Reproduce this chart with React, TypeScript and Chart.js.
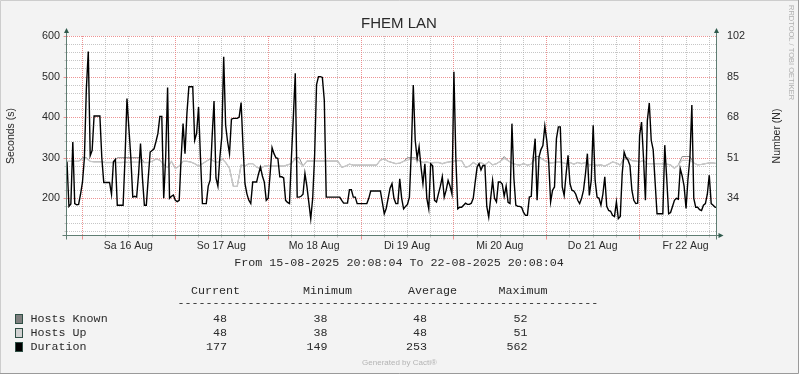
import React, { useEffect, useRef } from "react";
import { Chart, registerables } from "chart.js";

Chart.register(...registerables);

// ---------- data ----------
const TITLE = "FHEM LAN";
const LEFT_AXIS_TITLE = "Seconds (s)";
const RIGHT_AXIS_TITLE = "Number (N)";
const WATERMARK = "RRDTOOL / TOBI OETIKER";
const PERIOD_TEXT = "From 15-08-2025 20:08:04 To 22-08-2025 20:08:04";
const FOOTER = "Generated by Cacti®";

const TOTAL_HOURS = 168; // 7 days
const FIRST_MIDNIGHT_HOURS = 3.8656; // 20:08:04 -> 00:00 next day
const DAY_LABELS = ["Sa 16 Aug", "So 17 Aug", "Mo 18 Aug", "Di 19 Aug", "Mi 20 Aug", "Do 21 Aug", "Fr 22 Aug"];

const LEFT_MIN = 107.1;
const LEFT_MAX = 600;
const RIGHT_FACTOR = 0.17; // Number = Seconds * 0.17
const LEFT_TICK_LABELS = [200, 300, 400, 500, 600];
const RIGHT_TICK_LABELS = [34, 51, 68, 85, 102];

// Duration (s), one value every 30 minutes
const DURATION_STEP_HOURS = 0.5;
const durationValues = [
  290, 180, 186, 339, 187, 184, 185, 210, 240, 300,
  470, 562, 305, 318, 403, 403, 403, 403, 300, 239,
  239, 239, 239, 210, 290, 296, 183, 183, 183, 183,
  300, 446, 372, 300, 203, 205, 203, 260, 335, 250,
  183, 183, 250, 314, 318, 322, 340, 360, 402, 402,
  200, 300, 473, 200, 205, 208, 195, 192, 195, 300,
  384, 310, 410, 475, 475, 475, 343, 360, 425, 300,
  187, 187, 187, 230, 245, 350, 440, 250, 230, 300,
  350, 549, 380, 340, 310, 395, 397, 397, 397, 400,
  436, 327, 236, 211, 195, 187, 240, 240, 240, 260,
  277, 255, 240, 195, 200, 260, 325, 310, 300, 298,
  253, 253, 250, 195, 190, 187, 300, 400, 508, 203,
  203, 205, 210, 261, 230, 190, 150, 200, 306, 480,
  500, 500, 498, 442, 203, 203, 203, 203, 203, 203,
  203, 203, 195, 188, 188, 188, 221, 221, 203, 203,
  187, 187, 187, 187, 187, 187, 200, 218, 218, 218,
  218, 218, 218, 190, 162, 175, 200, 225, 236, 200,
  187, 187, 248, 200, 174, 180, 185, 203, 318, 479,
  343, 298, 327, 277, 236, 285, 200, 174, 285, 280,
  195, 191, 211, 230, 253, 203, 220, 244, 230, 210,
  512, 300, 174, 178, 178, 183, 188, 185, 185, 188,
  200, 240, 277, 285, 270, 281, 281, 180, 154, 200,
  244, 200, 191, 240, 240, 235, 205, 230, 190, 187,
  384, 250, 183, 180, 180, 178, 165, 158, 158, 203,
  205, 300, 347, 195, 302, 320, 330, 378, 343, 290,
  191, 220, 228, 347, 376, 376, 228, 207, 260, 306,
  236, 220, 218, 210, 195, 187, 200, 220, 260, 310,
  207, 244, 380, 244, 203, 200, 183, 210, 253, 180,
  170, 168, 158, 155, 191, 150, 155, 261, 314, 300,
  294, 281, 220, 195, 187, 188, 355, 388, 300, 195,
  392, 435, 343, 320, 240, 162, 162, 162, 162, 331,
  250, 162, 165, 180, 195, 200, 198, 273, 255, 230,
  175, 248, 300, 430, 200, 178, 178, 172, 170, 183,
  187, 210, 257, 187, 183, 178, 177,
];

// Hosts (N), one value every hour
const HOSTS_STEP_HOURS = 1;
const hostsUpValues = [
  49.5, 49.5, 49.5, 49.5, 50.5, 50.7, 49.5, 49.3, 49.3, 49.3,
  49, 49, 49, 49, 49, 49.2, 49, 49.3, 49.2, 49.3,
  49, 49, 49.5, 50.5, 50, 48, 47, 49.5, 46.5, 47.5,
  49.5, 49.5, 49.2, 48.5, 47.5, 48.5, 49.5, 50.5, 49.5, 49,
  50.7, 49, 46.5, 39, 39, 47.9, 47.5, 48.5, 48.5, 47,
  46.5, 47.5, 47.5, 47.5, 47.5, 47.5, 47.5, 48, 48.5, 50.5,
  49, 47.5, 49.6, 49.6, 49.6, 49.6, 49.6, 49.6, 49.6, 49.6,
  49.6, 47, 47.5, 48.3, 47.9, 47.9, 47.9, 47.9, 47.9, 47.9,
  47.9, 50, 50.5, 49.5, 49, 48.5, 48.7, 49.5, 50, 50.5,
  50.3, 49.8, 49, 49.2, 48.8, 49, 49, 48.5, 49, 49.3,
  49.6, 49.8, 49.8, 47, 47.5, 49, 48, 49, 48, 49.3,
  48, 48.5, 49.5, 50.7, 49.8, 48.7, 48.2, 47.9, 48.5, 47.9,
  48.3, 50.3, 50.8, 50.3, 49.2, 48.8, 49, 49.2, 49, 48.5,
  49, 48.3, 49, 48.5, 49, 48, 48.2, 47.8, 48, 47.5,
  48.3, 49.2, 48.8, 47.9, 50.3, 50.3, 49.8, 49.6, 49.3, 49.8,
  48.5, 48.5, 48.5, 48.5, 48.5, 48.3, 48, 46.5, 48, 49.9,
  49.9, 49.9, 48.8, 48, 48.2, 48.5, 48.8, 48.8, 48.5,
];
const hostsKnownValues = [
  49.5, 49.5, 49.5, 49.5, 51, 51, 49.5, 49.3, 49.3, 49.3,
  49, 49, 49, 51, 51, 51, 51, 51, 51, 51,
  49, 49, 49.5, 50.5, 50, 48, 47, 49.5, 46.5, 47.5,
  49.5, 49.5, 49.2, 48.5, 47.5, 48.5, 49.5, 50.5, 49.5, 49,
  50.7, 49, 46.5, 39, 39, 47.9, 47.5, 48.5, 48.5, 47,
  46.5, 47.5, 47.5, 47.5, 47.5, 47.5, 47.5, 48, 48.5, 51,
  51, 47.5, 49.6, 49.6, 49.6, 49.6, 49.6, 49.6, 49.6, 49.6,
  49.6, 47, 47.5, 48.3, 47.9, 47.9, 47.9, 47.9, 47.9, 47.9,
  47.9, 50, 50.5, 49.5, 49, 48.5, 48.7, 49.5, 51, 51,
  51, 49.8, 49, 49.2, 48.8, 49, 49, 48.5, 49, 49.3,
  49.6, 49.8, 49.8, 47, 47.5, 49, 48, 49, 48, 49.3,
  48, 48.5, 49.5, 51.5, 49.8, 48.7, 48.2, 47.9, 48.5, 47.9,
  48.3, 51.5, 51.5, 50.3, 49.2, 48.8, 49, 49.2, 49, 48.5,
  49, 48.3, 49, 48.5, 49, 48, 48.2, 47.8, 48, 47.5,
  48.3, 49.2, 48.8, 47.9, 51, 51, 49.8, 49.6, 49.3, 49.8,
  48.5, 48.5, 48.5, 48.5, 48.5, 48.3, 48, 46.5, 48, 51.5,
  51.5, 51.5, 48.8, 48, 48.2, 48.5, 48.8, 48.8, 48.5,
];

// legend table
const legendNames = ["Hosts Known", "Hosts Up", "Duration"];
const legendColors = ["#7f7f7f", "#d2d2d2", "#000000"];
const legendCurrent = ["48", "48", "177"];
const legendMinimum = ["38", "38", "149"];
const legendAverage = ["48", "48", "253"];
const legendMaximum = ["52", "51", "562"];
const legendHeaders = ["Current", "Minimum", "Average", "Maximum"];

// ---------- styles ----------
const SANS = "'Liberation Sans', Arial, sans-serif";
const MONO = "'Liberation Mono', 'DejaVu Sans Mono', monospace";
const BG = "#f3f3f3";
const AXIS_COLOR = "#5f7d72";
const ARROW_COLOR = "#2f5a4c";
const MAJOR_GRID = "rgba(232, 120, 120, 0.8)";
const MINOR_GRID = "rgba(160, 160, 160, 0.6)";
const TEXT_COLOR = "#2a2a2a";

const isMidnight = (v: number) => {
  const r = (((v - FIRST_MIDNIGHT_HOURS) % 24) + 24) % 24;
  return r < 0.01 || r > 23.99;
};
const dayLabel = (v: number) => {
  const d = v - FIRST_MIDNIGHT_HOURS;
  const r = ((d % 24) + 24) % 24;
  if (Math.abs(r - 12) < 0.01) return DAY_LABELS[Math.round((d - 12) / 24)] ?? "";
  return "";
};

const X_TICKS: number[] = [];
for (let k = 0; FIRST_MIDNIGHT_HOURS + 6 * k <= TOTAL_HOURS; k++) X_TICKS.push(FIRST_MIDNIGHT_HOURS + 6 * k);
const Y_GRID: number[] = [];
for (let k = 0; 120 + 20 * k <= LEFT_MAX; k++) Y_GRID.push(120 + 20 * k);

const chromePlugin = {
  id: "rrdChrome",
  beforeDraw(chart: any) {
    const { ctx, chartArea: ca, width, height } = chart;
    ctx.save();
    ctx.fillStyle = BG;
    ctx.fillRect(0, 0, width, height);
    ctx.fillStyle = "#ffffff";
    ctx.fillRect(ca.left, ca.top, ca.right - ca.left, ca.bottom - ca.top);
    ctx.restore();
  },
  beforeDatasetsDraw(chart: any) {
    const { ctx, chartArea: ca, scales } = chart;
    const xs = scales.x;
    const ys = scales.y;
    const L = Math.round(ca.left) - 0.5;
    const B = Math.round(ca.bottom) - 0.5;
    ctx.save();
    ctx.lineWidth = 1;
    // horizontal grid
    Y_GRID.forEach((v) => {
      const major = LEFT_TICK_LABELS.includes(v);
      const y = Math.round(ys.getPixelForValue(v)) + 0.5;
      ctx.strokeStyle = major ? MAJOR_GRID : MINOR_GRID;
      ctx.setLineDash([1, 1]);
      ctx.beginPath();
      ctx.moveTo(ca.left, y);
      ctx.lineTo(ca.right, y);
      ctx.stroke();
      ctx.setLineDash([]);
      ctx.beginPath();
      ctx.moveTo(L - (major ? 3 : 2), y);
      ctx.lineTo(L, y);
      ctx.stroke();
    });
    // vertical grid
    X_TICKS.forEach((t) => {
      const major = isMidnight(t);
      const x = Math.round(xs.getPixelForValue(t)) + 0.5;
      ctx.strokeStyle = major ? MAJOR_GRID : MINOR_GRID;
      ctx.setLineDash([1, 1]);
      ctx.beginPath();
      ctx.moveTo(x, ca.top);
      ctx.lineTo(x, ca.bottom);
      ctx.stroke();
      ctx.setLineDash([]);
      ctx.beginPath();
      ctx.moveTo(x, B);
      ctx.lineTo(x, B + (major ? 4 : 2));
      ctx.stroke();
    });
    ctx.restore();
  },
  afterDatasetsDraw(chart: any) {
    const { ctx, chartArea: ca } = chart;
    const L = Math.round(ca.left) - 0.5;
    const R = Math.round(ca.right) - 0.5;
    const B = Math.round(ca.bottom) - 0.5;
    const T = ca.top;
    ctx.save();
    ctx.strokeStyle = AXIS_COLOR;
    ctx.lineWidth = 1;
    ctx.beginPath();
    ctx.moveTo(L - 4, B);
    ctx.lineTo(R + 3, B);
    ctx.moveTo(L, T - 4);
    ctx.lineTo(L, B + 4);
    ctx.moveTo(R, T - 4);
    ctx.lineTo(R, B + 4);
    ctx.stroke();
    ctx.fillStyle = ARROW_COLOR;
    const tri = (a: number[], b: number[], c: number[]) => {
      ctx.beginPath();
      ctx.moveTo(a[0], a[1]);
      ctx.lineTo(b[0], b[1]);
      ctx.lineTo(c[0], c[1]);
      ctx.closePath();
      ctx.fill();
    };
    tri([L, T - 8], [L - 2.5, T - 3], [L + 2.5, T - 3]);
    tri([R, T - 8], [R - 2.5, T - 3], [R + 2.5, T - 3]);
    tri([R + 7, B], [R + 2, B - 2.5], [R + 2, B + 2.5]);
    ctx.restore();
  },
  afterDraw(chart: any) {
    const { ctx, chartArea: ca, width, height } = chart;
    ctx.save();
    // frame
    ctx.lineWidth = 1;
    ctx.strokeStyle = "#cdcdcd";
    ctx.beginPath();
    ctx.moveTo(0.5, height);
    ctx.lineTo(0.5, 0.5);
    ctx.lineTo(width, 0.5);
    ctx.stroke();
    ctx.strokeStyle = "#9a9a9a";
    ctx.beginPath();
    ctx.moveTo(width - 0.5, 0);
    ctx.lineTo(width - 0.5, height - 0.5);
    ctx.lineTo(0, height - 0.5);
    ctx.stroke();

    // title
    ctx.fillStyle = TEXT_COLOR;
    ctx.font = `15px ${SANS}`;
    ctx.textAlign = "center";
    ctx.textBaseline = "alphabetic";
    ctx.fillText(TITLE, 399, 27.5);

    // axis titles
    const midY = (ca.top + ca.bottom) / 2;
    ctx.font = `10.5px ${SANS}`;
    ctx.textBaseline = "middle";
    ctx.save();
    ctx.translate(11, midY);
    ctx.rotate(-Math.PI / 2);
    ctx.fillText(LEFT_AXIS_TITLE, 0, 0);
    ctx.restore();
    ctx.save();
    ctx.translate(777.5, midY);
    ctx.rotate(-Math.PI / 2);
    ctx.fillText(RIGHT_AXIS_TITLE, 0, 0);
    ctx.restore();

    // watermark
    ctx.save();
    ctx.fillStyle = "#b0b0b0";
    ctx.font = `7.5px ${SANS}`;
    ctx.translate(791, 5);
    ctx.rotate(Math.PI / 2);
    ctx.textAlign = "left";
    ctx.fillText(WATERMARK, 0, 0);
    ctx.restore();

    // period
    ctx.font = `11.7px ${MONO}`;
    ctx.fillStyle = TEXT_COLOR;
    ctx.textAlign = "center";
    ctx.fillText(PERIOD_TEXT, 399, 263);

    // legend header
    ctx.textAlign = "left";
    const headerX = [191, 303, 408, 498.5];
    legendHeaders.forEach((h, i) => ctx.fillText(h, headerX[i], 290.5));
    ctx.fillText("-".repeat(60), 177.4, 303);

    const rowY = [319, 333, 347];
    const colRight = [227, 327.5, 427, 527.5];
    const cols = [legendCurrent, legendMinimum, legendAverage, legendMaximum];
    legendNames.forEach((name, r) => {
      const y = rowY[r];
      ctx.fillStyle = legendColors[r];
      ctx.fillRect(15, y - 4.5, 8, 9);
      ctx.strokeStyle = "#2f4f45";
      ctx.lineWidth = 1;
      ctx.strokeRect(15.5, y - 4.5, 7, 9);
      ctx.fillStyle = TEXT_COLOR;
      ctx.textAlign = "left";
      ctx.fillText(name, 30.5, y);
      ctx.textAlign = "right";
      cols.forEach((col, c) => ctx.fillText(col[r], colRight[c], y));
    });

    // footer
    ctx.textAlign = "center";
    ctx.fillStyle = "#b4b4b4";
    ctx.font = `8px ${SANS}`;
    ctx.fillText(FOOTER, 399.5, 363);
    ctx.restore();
  },
};

export default function App() {
  const ref = useRef<HTMLCanvasElement>(null);
  useEffect(() => {
    document.body.style.margin = "0";
    const durationData = durationValues.map((v, i) => ({ x: i * DURATION_STEP_HOURS, y: v }));
    const upData = hostsUpValues.map((v, i) => ({ x: i * HOSTS_STEP_HOURS, y: v }));
    const knownData = hostsKnownValues.map((v, i) => ({ x: i * HOSTS_STEP_HOURS, y: v }));

    const chart = new Chart(ref.current as HTMLCanvasElement, {
      type: "line",
      data: {
        datasets: [
          {
            label: "Duration",
            data: durationData,
            yAxisID: "y",
            borderColor: "#000000",
            borderWidth: 1.4,
            pointRadius: 0,
            tension: 0,
          },
          {
            label: "Hosts Up",
            data: upData,
            yAxisID: "y1",
            borderColor: "#c9c9c9",
            borderWidth: 1.3,
            pointRadius: 0,
            tension: 0,
          },
          {
            label: "Hosts Known",
            data: knownData,
            yAxisID: "y1",
            borderColor: "#8a8a8a",
            borderWidth: 1,
            pointRadius: 0,
            tension: 0,
          },
        ],
      },
      options: {
        animation: false,
        responsive: false,
        devicePixelRatio: 1,
        layout: { padding: { top: 36, left: 0, right: 0, bottom: 0 } },
        plugins: { legend: { display: false }, tooltip: { enabled: false }, title: { display: false } },
        scales: {
          x: {
            type: "linear",
            min: 0,
            max: TOTAL_HOURS,
            afterBuildTicks: (s: any) => {
              s.ticks = X_TICKS.map((v) => ({ value: v }));
            },
            afterFit: (s: any) => {
              s.height = 138;
            },
            ticks: {
              autoSkip: false,
              maxRotation: 0,
              minRotation: 0,
              padding: 4,
              color: TEXT_COLOR,
              font: { family: SANS, size: 10.5 },
              callback: (v: any) => dayLabel(Number(v)),
            },
            grid: { display: false, drawOnChartArea: false, drawTicks: false },
            border: { display: false },
          },
          y: {
            type: "linear",
            position: "left",
            min: LEFT_MIN,
            max: LEFT_MAX,
            afterBuildTicks: (s: any) => {
              s.ticks = LEFT_TICK_LABELS.map((v) => ({ value: v }));
            },
            afterFit: (s: any) => {
              s.width = 67;
            },
            ticks: {
              autoSkip: false,
              padding: 7,
              color: TEXT_COLOR,
              font: { family: SANS, size: 10.8 },
              callback: (v: any) => String(v),
            },
            grid: { display: false, drawOnChartArea: false, drawTicks: false },
            border: { display: false },
          },
          y1: {
            type: "linear",
            position: "right",
            min: LEFT_MIN * RIGHT_FACTOR,
            max: LEFT_MAX * RIGHT_FACTOR,
            afterBuildTicks: (s: any) => {
              s.ticks = RIGHT_TICK_LABELS.map((v) => ({ value: v }));
            },
            afterFit: (s: any) => {
              s.width = 82;
            },
            ticks: {
              autoSkip: false,
              padding: 10,
              color: TEXT_COLOR,
              font: { family: SANS, size: 10.8 },
              callback: (v: any) => String(v),
            },
            grid: { display: false, drawTicks: false, drawOnChartArea: false },
            border: { display: false },
          },
        },
      },
      plugins: [chromePlugin],
    } as any);
    return () => chart.destroy();
  }, []);

  return (
    <div style={{ width: 799, height: 374 }}>
      <canvas ref={ref} width={799} height={374} style={{ display: "block" }} />
    </div>
  );
}
